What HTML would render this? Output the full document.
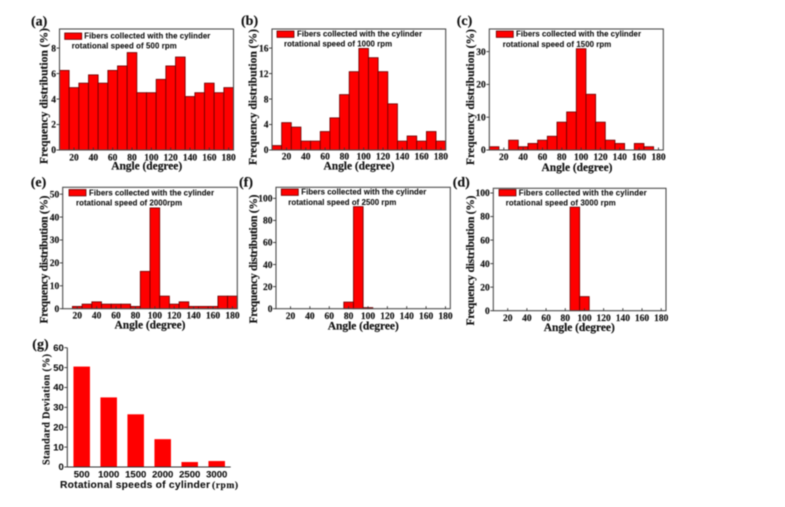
<!DOCTYPE html>
<html lang="en">
<head>
<meta charset="utf-8">
<title>Frequency distribution of fibers</title>
<style>
html,body{margin:0;padding:0;background:#fff;width:785px;height:507px;overflow:hidden}
svg{display:block;filter:blur(0.45px)}
.serif{font-family:"Liberation Serif",serif;font-weight:bold;fill:#111;stroke:#111;stroke-width:0.15px}
.sans{font-family:"Liberation Sans",sans-serif;font-weight:bold;fill:#111;stroke:#111;stroke-width:0.1px}
</style>
</head>
<body>
<svg id="figure" xmlns="http://www.w3.org/2000/svg" width="785" height="507" viewBox="0 0 785 507"></svg>
<script>
const angleCategories = [10,20,30,40,50,60,70,80,90,100,110,120,130,140,150,160,170,180];
const angleTicks = [20,40,60,80,100,120,140,160,180];
const freq500 = [6.25,4.9,5.25,5.9,5.25,6.25,6.6,7.65,4.5,4.5,5.55,6.6,7.3,4.2,4.5,5.25,4.5,4.9];
const freq1000 = [0.7,4.3,3.6,1.4,1.4,2.9,5.05,8.7,12.3,15.95,14.5,12.3,7.25,1.4,2.2,1.4,2.9,1.4];
const freq1500 = [1,0,3,1,2,3,4.2,8.5,11.6,30.9,17,8.5,3,2,0,2,1,0];
const freq2000 = [0,1,2,3,2,2,2,1,16.3,44,5.5,2,3,1,1,1,5.5,5.5];
const freq2500 = [0,0,0,0,0,0,0,6,92.5,1,0,0,0,0,0,0,0,0];
const freq3000 = [0,0,0,0,0,0,0,0,88,12,0,0,0,0,0,0,0,0];
const yTicks500 = [0,2,4,6,8];
const yTicks1000 = [0,4,8,12,16];
const yTicks1500 = [0,10,20,30];
const yTicks2000 = [0,10,20,30,40,50];
const yTicks2500 = [0,20,40,60,80,100];
const yTicks3000 = [0,20,40,60,80,100];
const speedCategories = ["500","1000","1500","2000","2500","3000"];
const stdDeviation = [50.5,35,26.5,14,2.5,3];
const stdTicks = [0,10,20,30,40,50,60];

const svg = document.getElementById('figure');
const NS = 'http://www.w3.org/2000/svg';

function make(tag, attrs, parent, text) {
  const el = document.createElementNS(NS, tag);
  for (const k in attrs) el.setAttribute(k, attrs[k]);
  if (text !== undefined) el.textContent = text;
  parent.appendChild(el);
  return el;
}

function drawPanel(id, values, yTicks, yMax, box, deco) {
  const g = make('g', {}, svg);
  
  
  const xScale = v => box.left + (v - 5) / 180 * (box.right - box.left);
  const yScale = v => box.bottom - v / yMax * (box.bottom - box.top);

  values.forEach((v, i) => {
    if (v <= 0) return;
    const cat = angleCategories[i];
    const bar = make('rect', {
      x: xScale(cat - 5), y: yScale(v),
      width: xScale(cat + 5) - xScale(cat - 5), height: box.bottom - yScale(v),
      fill: '#ff0000', stroke: '#6a0000', 'stroke-width': 0.8
    }, g);
    
    
  });

  const frame = make('rect', {
    x: box.left, y: box.top, width: box.right - box.left, height: box.bottom - box.top,
    fill: 'none', stroke: '#4d4d4d', 'stroke-width': 1.1
  }, g);
  
  

  angleTicks.forEach(t => {
    const tick = make('line', {
      x1: xScale(t), x2: xScale(t), y1: box.bottom, y2: box.bottom - 2.5,
      stroke: '#333', 'stroke-width': 0.9
    }, g);
    
    
    const label = make('text', {
      x: xScale(t), y: deco.xTickY, 'text-anchor': 'middle', 'font-size': 9.5, class: 'serif'
    }, g, String(t));
    
    
  });

  yTicks.forEach(t => {
    const tick = make('line', {
      x1: box.left - 3, x2: box.left, y1: yScale(t), y2: yScale(t),
      stroke: '#333', 'stroke-width': 0.9
    }, g);
    
    
    const label = make('text', {
      x: box.left - 3.5, y: yScale(t) + 3.2, 'text-anchor': 'end', 'font-size': 9.5, class: 'serif'
    }, g, String(t));
    
    
  });

  const xTitle = make('text', {
    x: deco.xTitleX, y: deco.xTitleY, 'text-anchor': 'middle', 'font-size': 11.5,
    textLength: 71, lengthAdjust: 'spacing', class: 'serif'
  }, g, 'Angle (degree)');
  
  

  const yTitle = make('text', {
    x: 0, y: 0, 'text-anchor': 'middle', 'font-size': 11.6,
    textLength: deco.yTitleLen, lengthAdjust: 'spacing', class: 'serif',
    transform: 'translate(' + deco.yTitleX + ',' + deco.yTitleY + ') rotate(-90)'
  }, g, 'Frequency distribution (%)');
  
  

  const swatch = make('rect', {
    x: deco.swatchX, y: deco.swatchY, width: 17, height: 6.4,
    fill: '#ff0000', stroke: '#6a0000', 'stroke-width': 0.8
  }, g);
  
  

  const line1 = make('text', {
    x: deco.text1X, y: deco.text1Y, 'font-size': 7.8, textLength: deco.len1,
    lengthAdjust: 'spacing', class: 'sans'
  }, g, 'Fibers collected with the cylinder');
  
  

  const line2 = make('text', {
    x: deco.text2X, y: deco.text2Y, 'font-size': 7.8, textLength: deco.len2,
    lengthAdjust: 'spacing', class: 'sans'
  }, g, deco.label);
  
  

  const tag = make('text', {
    x: deco.tagX, y: deco.tagY, 'font-size': 14, class: 'serif'
  }, g, '(' + id + ')');
  
  
}

drawPanel('a', freq500, yTicks500, 9.5,
  {left:59.5,right:233.5,top:29,bottom:150},
  {xTickY:160.7,xTitleX:146.7,xTitleY:169.5,yTitleX:47.3,yTitleY:96,yTitleLen:136,
   swatchX:64.7,swatchY:33,text1X:84.3,text1Y:38.3,len1:126,text2X:71.7,text2Y:48.7,len2:105,
   label:'rotational speed of 500 rpm',tagX:31,tagY:25.7});

drawPanel('b', freq1000, yTicks1000, 19,
  {left:272,right:445.7,top:29,bottom:150},
  {xTickY:159.5,xTitleX:359,xTitleY:169.3,yTitleX:256.7,yTitleY:97,yTitleLen:136,
   swatchX:277,swatchY:31,text1X:297,text1Y:36.3,len1:125,text2X:284,text2Y:46.7,len2:108,
   label:'rotational speed of 1000 rpm',tagX:241,tagY:25});

drawPanel('c', freq1500, yTicks1500, 36.9,
  {left:489.3,right:663.3,top:29,bottom:150},
  {xTickY:160,xTitleX:577,xTitleY:171,yTitleX:474,yTitleY:97,yTitleLen:136,
   swatchX:496.3,swatchY:31,text1X:516,text1Y:36.7,len1:125,text2X:502.7,text2Y:47,len2:108.5,
   label:'rotational speed of 1500 rpm',tagX:456.7,tagY:25});

drawPanel('e', freq2000, yTicks2000, 53,
  {left:62.7,right:237.3,top:187.3,bottom:308.7},
  {xTickY:318.3,xTitleX:150,xTitleY:328.3,yTitleX:47.3,yTitleY:259.5,yTitleLen:128,
   swatchX:69,swatchY:189.5,text1X:89,text1Y:195.3,len1:125,text2X:76,text2Y:205.7,len2:106,
   label:'rotational speed of 2000rpm',tagX:30.7,tagY:186.7});

drawPanel('f', freq2500, yTicks2500, 110,
  {left:276,right:450.3,top:187.3,bottom:308.7},
  {xTickY:319,xTitleX:363.3,xTitleY:329.3,yTitleX:257,yTitleY:259,yTitleLen:129,
   swatchX:281.3,swatchY:189,text1X:301.3,text1Y:194.7,len1:125,text2X:288.3,text2Y:205,len2:108,
   label:'rotational speed of 2500 rpm',tagX:239,tagY:186.7});

drawPanel('d', freq3000, yTicks3000, 104,
  {left:493.3,right:666,top:188.3,bottom:310.7},
  {xTickY:321,xTitleX:579.3,xTitleY:331,yTitleX:474,yTitleY:260.5,yTitleLen:130,
   swatchX:499,swatchY:189.5,text1X:518.7,text1Y:195.3,len1:128,text2X:505.7,text2Y:205.7,len2:110,
   label:'rotational speed of 3000 rpm',tagX:452.7,tagY:186.7});

(function drawDeviation() {
  const g = make('g', {}, svg);
  
  
  const axisLeft = 67.3, axisRight = 230.7, axisBottom = 467, axisTop = 347.7;
  const firstCenter = 81.7, step = 27, barWidth = 16.5;
  const xScale = i => firstCenter + i * step;
  const yScale = v => axisBottom - v / 60 * (axisBottom - axisTop);

  stdDeviation.forEach((v, i) => {
    const bar = make('rect', {
      x: xScale(i) - barWidth / 2, y: yScale(v), width: barWidth, height: axisBottom - yScale(v),
      fill: '#ff0000'
    }, g);
    
    
  });

  const xAxis = make('line', {x1: axisLeft, x2: axisRight, y1: axisBottom, y2: axisBottom, stroke: '#333', 'stroke-width': 1}, g);
  
  
  const yAxis = make('line', {x1: axisLeft, x2: axisLeft, y1: axisTop, y2: axisBottom, stroke: '#333', 'stroke-width': 1}, g);
  
  

  speedCategories.forEach((c, i) => {
    const label = make('text', {x: xScale(i), y: 477.5, 'text-anchor': 'middle', 'font-size': 9.5, class: 'sans'}, g, c);
    
    
  });

  stdTicks.forEach(t => {
    const tick = make('line', {x1: axisLeft - 3, x2: axisLeft, y1: yScale(t), y2: yScale(t), stroke: '#333', 'stroke-width': 0.9}, g);
    
    
    const label = make('text', {x: axisLeft - 3.5, y: yScale(t) + 3.2, 'text-anchor': 'end', 'font-size': 9.5, class: 'sans'}, g, String(t));
    
    
  });

  const yTitle = make('text', {
    x: 0, y: 0, 'text-anchor': 'middle', 'font-size': 10.2, textLength: 111, lengthAdjust: 'spacing',
    class: 'serif', transform: 'translate(49.3,409.5) rotate(-90)'
  }, g, 'Standard Deviation (%)');
  
  

  const xTitle = make('text', {x: 60, y: 488, 'font-size': 10.3, textLength: 150, lengthAdjust: 'spacing', class: 'sans'}, g, 'Rotational speeds of cylinder');
  
  
  const xUnit = make('text', {x: 212, y: 488, 'font-size': 9.5, textLength: 26, lengthAdjust: 'spacing', class: 'serif'}, g, '(rpm)');
  
  

  const tag = make('text', {x: 32.3, y: 348.3, 'font-size': 14, class: 'serif'}, g, '(g)');
  
  
})();
</script>
</body>
</html>
